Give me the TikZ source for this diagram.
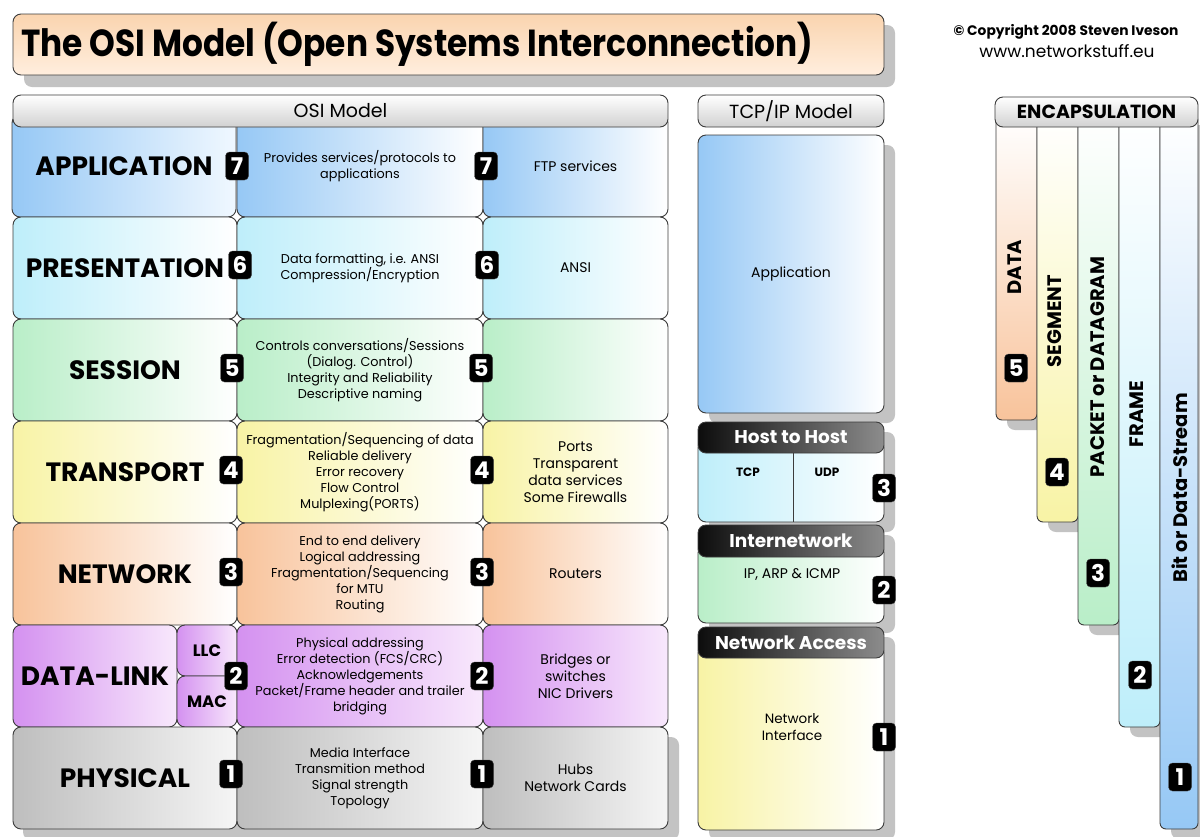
\documentclass[tikz,border=0pt]{standalone}
\usepackage{fontspec}
\setmainfont{Poppins}
\definecolor{cBlue}{RGB}{150,200,245}
\definecolor{cBlueR}{RGB}{240,248,255}
\definecolor{cCyan}{RGB}{190,238,250}
\definecolor{cGreen}{RGB}{185,238,200}
\definecolor{cYellow}{RGB}{248,243,165}
\definecolor{cPeach}{RGB}{248,195,155}
\definecolor{cPurple}{RGB}{212,145,240}
\definecolor{cPurpleR}{RGB}{248,232,252}
\definecolor{cGrey}{RGB}{190,190,190}
\definecolor{cGreyR}{RGB}{245,245,245}
\definecolor{cTitle}{RGB}{250,212,175}
\definecolor{cTitleB}{RGB}{255,238,222}
\definecolor{cShadow}{RGB}{195,195,195}
\definecolor{cLine}{RGB}{60,60,60}
\tikzset{
  shadowfill/.style={fill=cShadow, rounded corners=8pt},
  cell/.style={draw=cLine, line width=0.9pt, rounded corners=8pt, inner sep=0pt, align=center},
  lbl/.style={font=\bfseries\fontsize{26.5}{26.5}\selectfont},
  small/.style={font=\fontsize{12.8}{16}\selectfont, align=center},
  third/.style={font=\fontsize{14}{17}\selectfont, align=center},
  badge/.style={fill=black, draw=black!70, rounded corners=4pt, minimum width=23pt, minimum height=28pt,
    inner sep=0pt, text=white, font=\bfseries\fontsize{23}{23}\selectfont},
  hdr/.style={draw=cLine, line width=0.9pt, rounded corners=8pt, top color=white, bottom color=black!18,
    inner sep=0pt, minimum height=32pt, font=\fontsize{19}{19}\selectfont},
  darkhdr/.style={draw=cLine, line width=0.9pt, rounded corners=8pt, left color=black!95, right color=black!45,
    text=white, inner sep=0pt, minimum width=186pt, font=\bfseries\fontsize{18.5}{18.5}\selectfont},
  strip/.style={draw=cLine, line width=0.9pt, rounded corners=6pt, inner sep=0pt, top color=white},
  vlabel/.style={rotate=90, font=\bfseries\fontsize{19.5}{19.5}\selectfont},
}
\begin{document}
\begin{tikzpicture}[x=1pt,y=-1pt]
\useasboundingbox (0,0) rectangle (1200,836);
% ---------- shadows ----------
\fill[shadowfill] (24,25) rectangle (895,87);
\fill[shadowfill] (23,737) rectangle (679,840);
\fill[shadowfill] (709,145) rectangle (895,423);
\fill[shadowfill] (709,432) rectangle (895,532);
\fill[shadowfill] (709,535) rectangle (895,633);
\fill[shadowfill] (709,637) rectangle (895,840);
\fill[shadowfill] (1007,125) rectangle (1048,430);
\fill[shadowfill] (1048,125) rectangle (1089,532);
\fill[shadowfill] (1089,125) rectangle (1130,635);
\fill[shadowfill] (1130,125) rectangle (1171,737);
\fill[shadowfill] (1171,125) rectangle (1209,839);
% ---------- title ----------
\node[cell, minimum width=871pt, minimum height=61pt, top color=cTitle, bottom color=cTitleB] (title) at (448.5,44.5) {};
\node[anchor=west, inner sep=0pt] (titletext) at (21,44.5)
  {\scalebox{1}[1.15]{\resizebox{792pt}{!}{\bfseries The OSI Model (Open Systems Interconnection)}}};
\node[font=\bfseries\fontsize{13.8}{13.8}\selectfont] (copy) at (1066,32) {© Copyright 2008 Steven Iveson};
\node[font=\fontsize{17}{17}\selectfont] (web) at (1067,51) {www.networkstuff.eu};
% ---------- OSI rows ----------
% row 1
\node[cell, lbl, minimum width=224pt, minimum height=102pt, left color=cBlue, right color=cBlueR] (app1) at (124,166) {APPLICATION};
\node[cell, small, minimum width=246pt, minimum height=102pt, left color=cBlue, right color=white] (app2) at (360,166) {Provides services/protocols to\\applications};
\node[cell, third, minimum width=185pt, minimum height=102pt, left color=cBlue, right color=white] (app3) at (575.5,166) {FTP services};
% row 2
\node[cell, lbl, minimum width=224pt, minimum height=102pt, left color=cCyan, right color=white] (pre1) at (125,268) {PRESENTATION};
\node[cell, small, minimum width=246pt, minimum height=102pt, left color=cCyan, right color=white] (pre2) at (360,268) {Data formatting, i.e. ANSI\\Compression/Encryption};
\node[cell, third, minimum width=185pt, minimum height=102pt, left color=cCyan, right color=white] (pre3) at (575.5,268) {ANSI};
% row 3
\node[cell, lbl, minimum width=224pt, minimum height=102pt, left color=cGreen, right color=white] (ses1) at (125,370) {SESSION};
\node[cell, small, minimum width=246pt, minimum height=102pt, left color=cGreen, right color=white] (ses2) at (360,370) {Controls conversations/Sessions\\(Dialog. Control)\\Integrity and Reliability\\Descriptive naming};
\node[cell, third, minimum width=185pt, minimum height=102pt, left color=cGreen, right color=white] (ses3) at (575.5,370) {};
% row 4
\node[cell, lbl, minimum width=224pt, minimum height=102pt, left color=cYellow, right color=white] (tra1) at (125,472) {TRANSPORT};
\node[cell, small, minimum width=246pt, minimum height=102pt, left color=cYellow, right color=white] (tra2) at (360,472) {Fragmentation/Sequencing of data\\Reliable delivery\\Error recovery\\Flow Control\\Mulplexing(PORTS)};
\node[cell, third, minimum width=185pt, minimum height=102pt, left color=cYellow, right color=white] (tra3) at (575.5,472) {Ports\\Transparent\\data services\\Some Firewalls};
% row 5
\node[cell, lbl, minimum width=224pt, minimum height=102pt, left color=cPeach, right color=white] (net1) at (125,574) {NETWORK};
\node[cell, small, minimum width=246pt, minimum height=102pt, left color=cPeach, right color=white] (net2) at (360,574) {End to end delivery\\Logical addressing\\Fragmentation/Sequencing\\for MTU\\Routing};
\node[cell, third, minimum width=185pt, minimum height=102pt, left color=cPeach, right color=white] (net3) at (575.5,574) {Routers};
% row 6
\node[cell, lbl, minimum width=164pt, minimum height=102pt, left color=cPurple, right color=cPurpleR] (dl1) at (95,676) {DATA-LINK};
\node[cell, font=\bfseries\fontsize{16.5}{16.5}\selectfont, minimum width=60pt, minimum height=51pt, left color=cPurple, right color=cPurpleR] (llc) at (207,650.5) {LLC};
\node[cell, font=\bfseries\fontsize{16.5}{16.5}\selectfont, minimum width=60pt, minimum height=51pt, left color=cPurple, right color=cPurpleR] (mac) at (207,701.5) {MAC};
\node[cell, small, minimum width=246pt, minimum height=102pt, left color=cPurple, right color=cPurpleR] (dl2) at (360,676) {Physical addressing\\Error detection (FCS/CRC)\\Acknowledgements\\Packet/Frame header and trailer\\bridging};
\node[cell, third, minimum width=185pt, minimum height=102pt, left color=cPurple, right color=cPurpleR] (dl3) at (575.5,676) {Bridges or\\switches\\NIC Drivers};
% row 7
\node[cell, lbl, minimum width=224pt, minimum height=102pt, left color=cGrey, right color=cGreyR] (phy1) at (125,778) {PHYSICAL};
\node[cell, small, minimum width=246pt, minimum height=102pt, left color=cGrey, right color=cGreyR] (phy2) at (360,778) {Media Interface\\Transmition method\\Signal strength\\Topology};
\node[cell, third, minimum width=185pt, minimum height=102pt, left color=cGrey, right color=cGreyR] (phy3) at (575.5,778) {Hubs\\Network Cards};
% header
\node[hdr, minimum width=655pt] (osih) at (340.5,111) {OSI Model};
% badges
\node[badge] (b7a) at (237,166) {7};
\node[badge] (b7b) at (486,166) {7};
\node[badge] (b6a) at (240,265) {6};
\node[badge] (b6b) at (487,265) {6};
\node[badge] (b5a) at (232,368) {5};
\node[badge] (b5b) at (481,368) {5};
\node[badge] (b4a) at (231,470) {4};
\node[badge] (b4b) at (482,470) {4};
\node[badge] (b3a) at (231,572) {3};
\node[badge] (b3b) at (482,572) {3};
\node[badge] (b2a) at (236,676) {2};
\node[badge] (b2b) at (482,676) {2};
\node[badge] (b1a) at (231,774) {1};
\node[badge] (b1b) at (482,774) {1};
% ---------- TCP/IP ----------
\node[hdr, minimum width=186pt] (tcph) at (791,111) {TCP/IP Model};
\node[cell, font=\fontsize{14}{16}\selectfont, minimum width=186pt, minimum height=278pt, left color=cBlue, right color=white] (tapp) at (791,274) {Application};
\node[cell, minimum width=186pt, minimum height=82pt, left color=cCyan, right color=white] (hbody) at (791,481) {};
\draw[cLine, line width=0.9pt] (793,453) -- (hbody.south -| 793,0);
\node[font=\bfseries\fontsize{12}{12}\selectfont] (tcp) at (748,472) {TCP};
\node[font=\bfseries\fontsize{12}{12}\selectfont] (udp) at (827,472) {UDP};
\node[darkhdr, minimum height=31pt] (hh) at (791,437.5) {Host to Host};
\node[cell, minimum width=186pt, minimum height=78pt, left color=cGreen, right color=white] (ibody) at (791,584) {};
\node[font=\fontsize{14}{14}\selectfont] (ip) at (792,575) {IP, ARP \& ICMP};
\node[darkhdr, minimum height=32pt] (inh) at (791,541) {Internetwork};
\node[cell, minimum width=186pt, minimum height=185pt, left color=cYellow, right color=white] (nbody) at (791,737.5) {};
\node[align=center, font=\fontsize{13.5}{17}\selectfont] (ni) at (792,727) {Network\\Interface};
\node[darkhdr, minimum height=31pt] (nah) at (791,642.5) {Network Access};
\node[badge] (t3) at (884,488) {3};
\node[badge] (t2) at (884,590) {2};
\node[badge] (t1) at (884,737) {1};
% ---------- Encapsulation ----------
\node[strip, minimum width=41pt, minimum height=305pt, bottom color=cPeach] (sdata) at (1016.5,267.5) {};
\node[strip, minimum width=41pt, minimum height=407pt, bottom color=cYellow] (sseg) at (1057.5,318.5) {};
\node[strip, minimum width=41pt, minimum height=510pt, bottom color=cGreen] (spack) at (1098.5,370) {};
\node[strip, minimum width=41pt, minimum height=612pt, bottom color=cCyan] (sframe) at (1139.5,421) {};
\node[strip, minimum width=38pt, minimum height=714pt, bottom color=cBlue] (sbit) at (1179,472) {};
\node[hdr, font=\bfseries\fontsize{19}{19}\selectfont, minimum width=203pt, minimum height=30pt] (ench) at (1096.5,112) {ENCAPSULATION};
\node[vlabel] (ldata) at (1015,267) {DATA};
\node[vlabel] (lseg) at (1055,321) {SEGMENT};
\node[vlabel] (lpack) at (1098,367) {PACKET or DATAGRAM};
\node[vlabel] (lframe) at (1137,414) {FRAME};
\node[vlabel] (lbit) at (1180,488) {Bit or Data-Stream};
\node[badge] (e5) at (1016,368) {5};
\node[badge] (e4) at (1057,472) {4};
\node[badge] (e3) at (1098,573) {3};
\node[badge] (e2) at (1140,675) {2};
\node[badge] (e1) at (1180,777) {1};
\end{tikzpicture}
\end{document}
